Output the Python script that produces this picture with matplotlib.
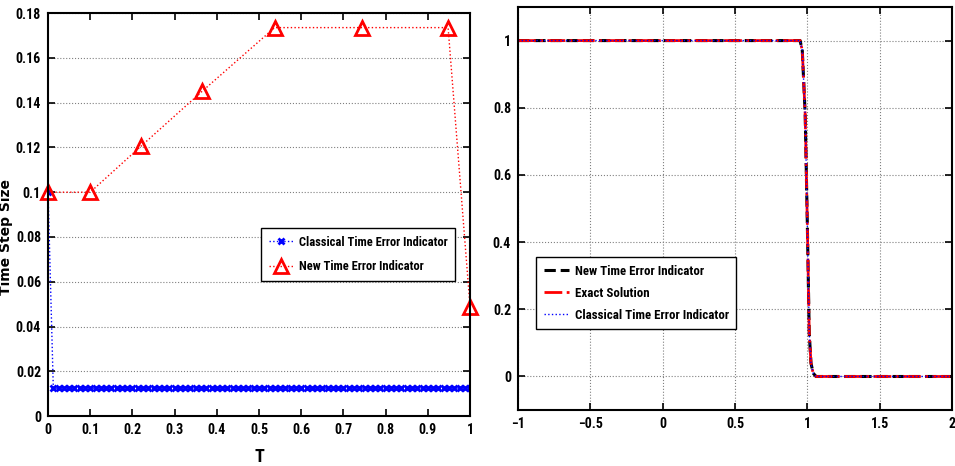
import numpy as np
import matplotlib
matplotlib.use('Agg')
import matplotlib.pyplot as plt

plt.rcParams['font.family'] = ['Roboto Condensed', 'DejaVu Sans']
plt.rcParams['font.weight'] = 'bold'
plt.rcParams['font.stretch'] = 'condensed'

# left panel: time step size vs T
new_T = [0.0, 0.1, 0.22, 0.366, 0.537, 0.744, 0.948, 1.0]
new_dt = [0.1, 0.1, 0.1205, 0.1452, 0.1735, 0.1735, 0.1735, 0.0488]
classical_first = 0.1
classical_dt = 0.0125
classical_steps = 80

# right panel: solution profiles
x_new = [-1.0, 0.95, 0.965, 0.985, 1.0, 1.013, 1.025, 1.04, 1.06, 2.0]
u_new = [1.0, 1.0, 0.97, 0.78, 0.45, 0.13, 0.04, 0.01, 0.0, 0.0]
x_exact = [-1.0, 0.95, 0.965, 0.985, 1.0, 1.013, 1.025, 1.04, 1.06, 2.0]
u_exact = [1.0, 1.0, 0.97, 0.78, 0.45, 0.13, 0.04, 0.01, 0.0, 0.0]
x_class = [-1.0, 0.95, 0.965, 0.985, 1.0, 1.013, 1.025, 1.04, 1.06, 2.0]
u_class = [1.0, 1.0, 0.97, 0.78, 0.45, 0.13, 0.04, 0.01, 0.0, 0.0]

classical_T = np.concatenate([[0.0], classical_dt * np.arange(1, classical_steps + 1)])
classical_vals = np.concatenate([[classical_first], np.full(classical_steps, classical_dt)])

fig = plt.figure(figsize=(9.55, 4.66), dpi=100)
ax1 = fig.add_axes([0.0503, 0.107, 0.4419, 0.865])
ax2 = fig.add_axes([0.5424, 0.120, 0.4545, 0.865])

ax1.plot(classical_T, classical_vals, color='blue', linestyle=':', linewidth=1,
         marker='x', markersize=5, markeredgewidth=2, label='Classical Time Error Indicator')
ax1.plot(new_T, new_dt, color='red', linestyle=':', linewidth=1,
         marker='^', markersize=9.5, markerfacecolor='none', markeredgewidth=2,
         label='New Time Error Indicator', clip_on=False)
ax1.set_xlim(0, 1)
ax1.set_ylim(0, 0.18)
ax1.set_xticks(np.arange(0, 1.01, 0.1))
ax1.set_xticklabels(['0', '0.1', '0.2', '0.3', '0.4', '0.5', '0.6', '0.7', '0.8', '0.9', '1'])
ax1.set_yticks(np.arange(0, 0.181, 0.02))
ax1.set_yticklabels(['0', '0.02', '0.04', '0.06', '0.08', '0.1', '0.12', '0.14', '0.16', '0.18'])
ax1.yaxis.grid(True, linestyle=':', color='gray', linewidth=0.8)
ax1.set_xlabel('T', fontsize=13, fontweight='bold')
ax1.xaxis.set_label_coords(0.5, -0.08)
ax1.set_ylabel('Time Step Size', fontsize=10, fontweight='bold', fontstretch='normal',
               family='DejaVu Sans')
ax1.yaxis.set_label_coords(-0.083, 0.444)
ax1.legend(loc='upper left', bbox_to_anchor=(0.505, 0.466), fontsize=9, frameon=True,
           fancybox=False, edgecolor='black', framealpha=1, handlelength=2.0,
           borderpad=0.6, labelspacing=0.9, handletextpad=0.4, borderaxespad=0)

ax2.plot(x_new, u_new, color='black', linestyle='--', linewidth=2.2, label='New Time Error Indicator')
ax2.plot(x_exact, u_exact, color='red', linestyle='-.', linewidth=2, label='Exact Solution')
ax2.plot(x_class, u_class, color='blue', linestyle=':', linewidth=1, label='Classical Time Error Indicator')
ax2.set_xlim(-1, 2)
ax2.set_ylim(-0.1, 1.1)
ax2.set_xticks([-1, -0.5, 0, 0.5, 1, 1.5, 2])
ax2.set_xticklabels(['\u22121', '\u22120.5', '0', '0.5', '1', '1.5', '2'])
ax2.set_yticks([0, 0.2, 0.4, 0.6, 0.8, 1])
ax2.set_yticklabels(['0', '0.2', '0.4', '0.6', '0.8', '1'])
ax2.grid(True, linestyle=':', color='gray', linewidth=0.8)
ax2.legend(loc='upper left', bbox_to_anchor=(0.041, 0.38), fontsize=9.3, frameon=True,
           fancybox=False, edgecolor='black', framealpha=1, handlelength=2.0,
           borderpad=0.6, labelspacing=0.7, handletextpad=0.4, borderaxespad=0)

for ax in (ax1, ax2):
    ax.tick_params(direction='in', top=True, right=True, labelsize=10, length=5, width=1.2, pad=5)
    for lbl in ax.get_xticklabels() + ax.get_yticklabels():
        lbl.set_fontweight('bold')
    for sp in ax.spines.values():
        sp.set_linewidth(1.5)

fig.savefig('out.png', dpi=100)
